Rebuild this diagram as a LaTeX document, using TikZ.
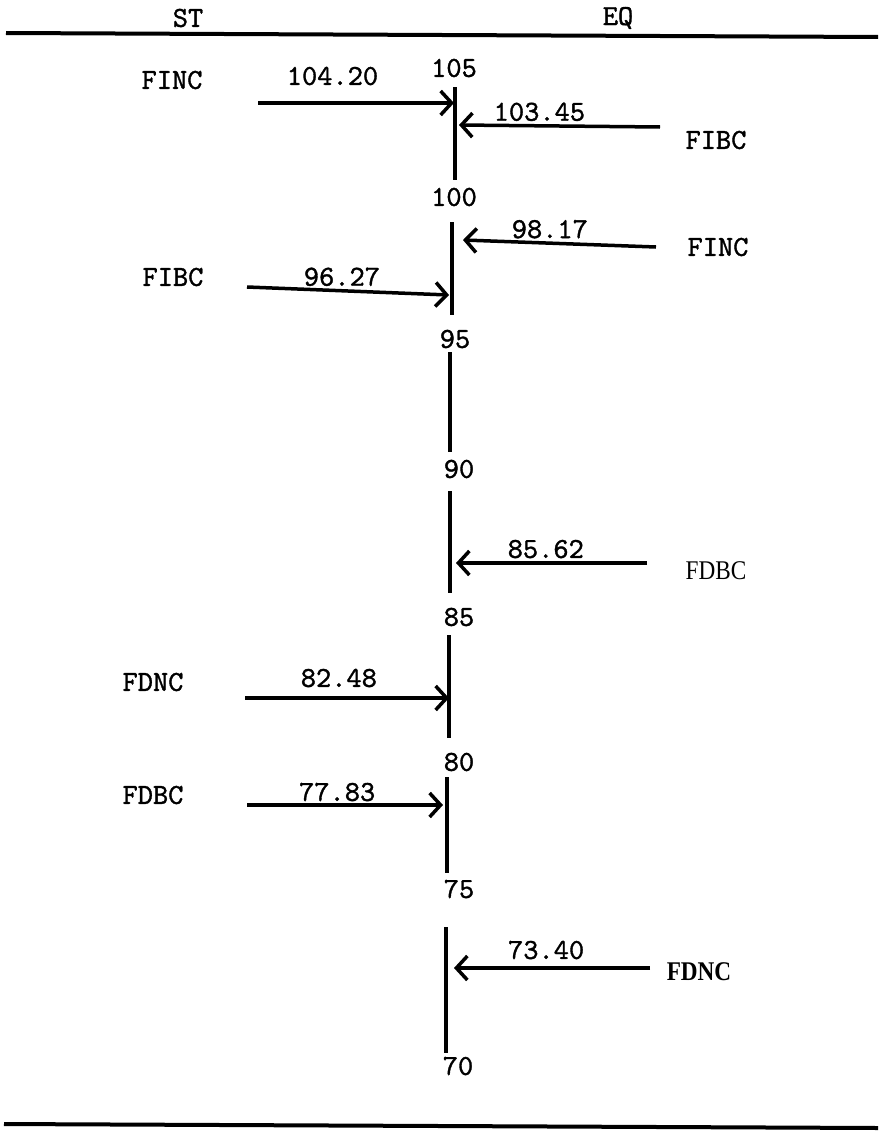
\documentclass[tikz,border=0pt]{standalone}
\usepackage{fontspec}
\newfontfamily\typew[FakeBold=1.2]{lmmono10-regular.otf}
\newfontfamily\serifalt[FakeStretch=0.86]{Liberation Serif}
\usetikzlibrary{arrows.meta}

\begin{document}
\begin{tikzpicture}[x=1pt, y=-1pt,
      tw/.style={font=\fontsize{29}{32}\selectfont\typew, inner sep=0pt},
      alt/.style={font=\fontsize{27}{30}\selectfont\serifalt, inner sep=0pt},
      rule/.style={line width=4pt},
      bar/.style={line width=3.5pt},
      arr/.style={-{Straight Barb[length=11pt,width=24pt]}, line width=3.5pt},
      lab/.style={tw, above=2pt}]
    \useasboundingbox (0,0) rectangle (878,1132);
    % header and rules
    \node[tw] (st) at (188,18) {ST};
    \node[tw] (eq) at (618,18) {EQ};
    \draw[rule] (6,33) -- (878,37);
    \draw[rule] (4,1124) -- (878,1128);
    % scale values
    \node[tw] (t105) at (454,68) {105};
    \node[tw] (t100) at (454,197) {100};
    \node[tw] (t95) at (455,339) {95};
    \node[tw] (t90) at (459,469) {90};
    \node[tw] (t85) at (459,617) {85};
    \node[tw] (t80) at (459,762) {80};
    \node[tw] (t75) at (459,889) {75};
    \node[tw] (t70) at (458,1066) {70};
    % the broken vertical line
    \foreach \x/\a/\b in {455/87/180, 452/222/315, 450/352/452, 450/491/593,
                          449/635/738, 447/777/873, 446/927/1053}
      \draw[bar] (\x,\a) -- (\x,\b);
    % ST side
    \node[tw] (finc) at (172,80) {FINC};
    \node[tw] (fibc) at (173,277) {FIBC};
    \node[tw] (fdnc) at (153,682) {FDNC};
    \node[tw] (fdbc) at (153,795) {FDBC};
    % EQ side
    \node[tw] (fibceq) at (716,140) {FIBC};
    \node[tw] (finceq) at (718,247) {FINC};
    \node[alt] (fdbceq) at (716,571) {FDBC};
    \node[alt, font=\fontsize{27}{30}\selectfont\serifalt\bfseries] (fdnceq) at (699,972) {FDNC};
    % arrow ends
    \coordinate (s1) at (258,103);  \coordinate (e1) at (454,103);
    \coordinate (s2) at (660,127);  \coordinate (e2) at (459,125);
    \coordinate (s3) at (656,247);  \coordinate (e3) at (463,240);
    \coordinate (s4) at (247,287);  \coordinate (e4) at (449,295);
    \coordinate (s5) at (647,563);  \coordinate (e5) at (456,563);
    \coordinate (s6) at (245,698);  \coordinate (e6) at (449,698);
    \coordinate (s7) at (247,805);  \coordinate (e7) at (443,805);
    \coordinate (s8) at (650,968);  \coordinate (e8) at (454,968);
    \draw[arr] (s1) -- (e1) node[lab, pos=0.38, above=14pt]{104.20};
    \draw[arr] (s2) -- (e2) node[lab, pos=0.6, above=1pt]{103.45};
    \draw[arr] (s3) -- (e3) node[lab, pos=0.55, above=1pt]{98.17};
    \draw[arr] (s4) -- (e4) node[lab, pos=0.47, above=1pt]{96.27};
    \draw[arr] (s5) -- (e5) node[lab, pos=0.53, above=1pt]{85.62};
    \draw[arr] (s6) -- (e6) node[lab, pos=0.46, above=7pt]{82.48};
    \draw[arr] (s7) -- (e7) node[lab, pos=0.46, above=0pt]{77.83};
    \draw[arr] (s8) -- (e8) node[lab, pos=0.53, above=5pt]{73.40};
  \end{tikzpicture}
\end{document}
